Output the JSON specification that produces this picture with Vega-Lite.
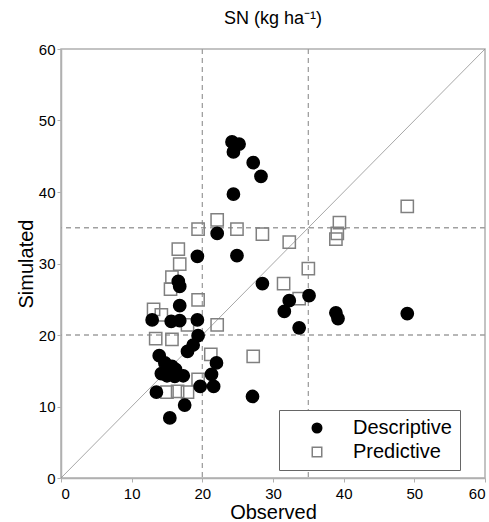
{
  "$schema": "https://vega.github.io/schema/vega-lite/v6.json",
  "width": 424,
  "height": 429,
  "autosize": "none",
  "padding": {"left": 61, "top": 49, "right": 4, "bottom": 44},
  "title": {"text": "SN (kg ha⁻¹)", "font": "Liberation Sans", "fontSize": 18, "fontWeight": "normal", "color": "#000", "offset": 14},
  "datasets": {
    "pts": [
      {"x": 22.1, "y": 36.1, "type": "Predictive"},
      {"x": 19.4, "y": 34.8, "type": "Predictive"},
      {"x": 24.9, "y": 34.8, "type": "Predictive"},
      {"x": 28.5, "y": 34.1, "type": "Predictive"},
      {"x": 32.3, "y": 33.0, "type": "Predictive"},
      {"x": 16.6, "y": 32.0, "type": "Predictive"},
      {"x": 16.8, "y": 29.9, "type": "Predictive"},
      {"x": 15.7, "y": 28.1, "type": "Predictive"},
      {"x": 15.5, "y": 26.4, "type": "Predictive"},
      {"x": 31.5, "y": 27.2, "type": "Predictive"},
      {"x": 19.4, "y": 24.9, "type": "Predictive"},
      {"x": 13.1, "y": 23.6, "type": "Predictive"},
      {"x": 14.2, "y": 22.8, "type": "Predictive"},
      {"x": 17.9, "y": 21.4, "type": "Predictive"},
      {"x": 22.1, "y": 21.4, "type": "Predictive"},
      {"x": 13.4, "y": 19.5, "type": "Predictive"},
      {"x": 15.7, "y": 19.4, "type": "Predictive"},
      {"x": 21.2, "y": 17.3, "type": "Predictive"},
      {"x": 27.2, "y": 17.0, "type": "Predictive"},
      {"x": 19.4, "y": 13.8, "type": "Predictive"},
      {"x": 15.0, "y": 12.0, "type": "Predictive"},
      {"x": 16.5, "y": 12.1, "type": "Predictive"},
      {"x": 17.9, "y": 12.0, "type": "Predictive"},
      {"x": 49.0, "y": 38.0, "type": "Predictive"},
      {"x": 39.4, "y": 35.7, "type": "Predictive"},
      {"x": 39.1, "y": 34.2, "type": "Predictive"},
      {"x": 38.9, "y": 33.4, "type": "Predictive"},
      {"x": 35.0, "y": 29.3, "type": "Predictive"},
      {"x": 33.7, "y": 25.1, "type": "Predictive"},
      {"x": 24.2, "y": 47.0, "type": "Descriptive"},
      {"x": 25.2, "y": 46.7, "type": "Descriptive"},
      {"x": 24.4, "y": 45.6, "type": "Descriptive"},
      {"x": 27.2, "y": 44.1, "type": "Descriptive"},
      {"x": 28.3, "y": 42.2, "type": "Descriptive"},
      {"x": 24.4, "y": 39.7, "type": "Descriptive"},
      {"x": 22.1, "y": 34.2, "type": "Descriptive"},
      {"x": 19.3, "y": 31.0, "type": "Descriptive"},
      {"x": 24.9, "y": 31.1, "type": "Descriptive"},
      {"x": 16.6, "y": 27.5, "type": "Descriptive"},
      {"x": 16.8, "y": 26.8, "type": "Descriptive"},
      {"x": 28.5, "y": 27.2, "type": "Descriptive"},
      {"x": 16.8, "y": 24.1, "type": "Descriptive"},
      {"x": 32.3, "y": 24.8, "type": "Descriptive"},
      {"x": 31.6, "y": 23.3, "type": "Descriptive"},
      {"x": 33.7, "y": 21.0, "type": "Descriptive"},
      {"x": 35.1, "y": 25.5, "type": "Descriptive"},
      {"x": 38.9, "y": 23.1, "type": "Descriptive"},
      {"x": 39.2, "y": 22.3, "type": "Descriptive"},
      {"x": 49.0, "y": 23.0, "type": "Descriptive"},
      {"x": 12.9, "y": 22.1, "type": "Descriptive"},
      {"x": 15.6, "y": 21.9, "type": "Descriptive"},
      {"x": 16.8, "y": 22.0, "type": "Descriptive"},
      {"x": 19.3, "y": 22.1, "type": "Descriptive"},
      {"x": 19.4, "y": 19.9, "type": "Descriptive"},
      {"x": 18.7, "y": 18.6, "type": "Descriptive"},
      {"x": 17.9, "y": 17.7, "type": "Descriptive"},
      {"x": 13.9, "y": 17.1, "type": "Descriptive"},
      {"x": 14.7, "y": 16.1, "type": "Descriptive"},
      {"x": 15.7, "y": 15.6, "type": "Descriptive"},
      {"x": 16.2, "y": 15.2, "type": "Descriptive"},
      {"x": 14.2, "y": 14.6, "type": "Descriptive"},
      {"x": 22.0, "y": 16.1, "type": "Descriptive"},
      {"x": 15.0, "y": 14.3, "type": "Descriptive"},
      {"x": 16.1, "y": 14.2, "type": "Descriptive"},
      {"x": 17.3, "y": 14.3, "type": "Descriptive"},
      {"x": 21.3, "y": 14.5, "type": "Descriptive"},
      {"x": 19.7, "y": 12.8, "type": "Descriptive"},
      {"x": 21.6, "y": 12.8, "type": "Descriptive"},
      {"x": 13.5, "y": 12.0, "type": "Descriptive"},
      {"x": 27.1, "y": 11.4, "type": "Descriptive"},
      {"x": 17.5, "y": 10.2, "type": "Descriptive"},
      {"x": 15.4, "y": 8.4, "type": "Descriptive"}
    ],
    "vrules": [{"v": 20}, {"v": 35}],
    "diag": [{"a": 0, "b": 0}, {"a": 60, "b": 60}]
  },
  "layer": [
    {
      "data": {"name": "vrules"},
      "mark": {"type": "rule", "color": "#a0a0a0", "strokeDash": [5, 4], "strokeWidth": 1.3},
      "encoding": {
        "x": {"field": "v", "type": "quantitative", "scale": {"domain": [0, 60]}}
      }
    },
    {
      "data": {"name": "vrules"},
      "mark": {"type": "rule", "color": "#a0a0a0", "strokeDash": [5, 4], "strokeWidth": 1.3},
      "encoding": {
        "y": {"field": "v", "type": "quantitative", "scale": {"domain": [0, 60]}}
      }
    },
    {
      "data": {"name": "diag"},
      "mark": {"type": "line", "color": "#909090", "strokeWidth": 0.8},
      "encoding": {
        "x": {"field": "a", "type": "quantitative"},
        "y": {"field": "b", "type": "quantitative"}
      }
    },
    {
      "data": {"name": "pts"},
      "mark": {"type": "point", "strokeWidth": 1.5, "opacity": 1, "size": 150},
      "encoding": {
        "x": {"field": "x", "type": "quantitative", "title": "Observed", "axis": {"values": [0, 10, 20, 30, 40, 50, 60], "tickSize": 4, "labelPadding": 4, "titlePadding": 1}},
        "y": {"field": "y", "type": "quantitative", "title": "Simulated", "axis": {"values": [0, 10, 20, 30, 40, 50, 60], "tickSize": 4, "labelPadding": 2, "titlePadding": 2}},
        "shape": {"field": "type", "type": "nominal", "scale": {"domain": ["Descriptive", "Predictive"], "range": ["circle", "square"]}, "title": null},
        "fill": {"field": "type", "type": "nominal", "scale": {"domain": ["Descriptive", "Predictive"], "range": ["#000000", "transparent"]}, "title": null},
        "stroke": {"field": "type", "type": "nominal", "scale": {"domain": ["Descriptive", "Predictive"], "range": ["#000000", "#808080"]}, "title": null}
      }
    }
  ],
  "config": {
    "view": {"stroke": "#b0b0b0", "strokeWidth": 1.5},
    "axis": {"grid": false, "domainColor": "#b0b0b0", "domainWidth": 1.5, "tickColor": "#b0b0b0", "labelFont": "Liberation Sans", "labelFontSize": 15, "labelColor": "#000", "titleFont": "Liberation Sans", "titleFontSize": 20, "titleFontWeight": "normal", "titleColor": "#000"},
    "legend": {"orient": "none", "legendX": 218, "legendY": 361, "strokeColor": "#666", "fillColor": "#fff", "padding": 8, "symbolOffset": 20, "labelOffset": 26, "labelFontSize": 20, "labelFont": "Liberation Sans", "labelColor": "#000", "symbolSize": 90, "rowPadding": 4, "symbolStrokeWidth": 1.5, "labelExpr": "datum.label + '\u00a0\u00a0\u00a0\u00a0\u00a0\u00a0\u00a0'"}
  }
}
